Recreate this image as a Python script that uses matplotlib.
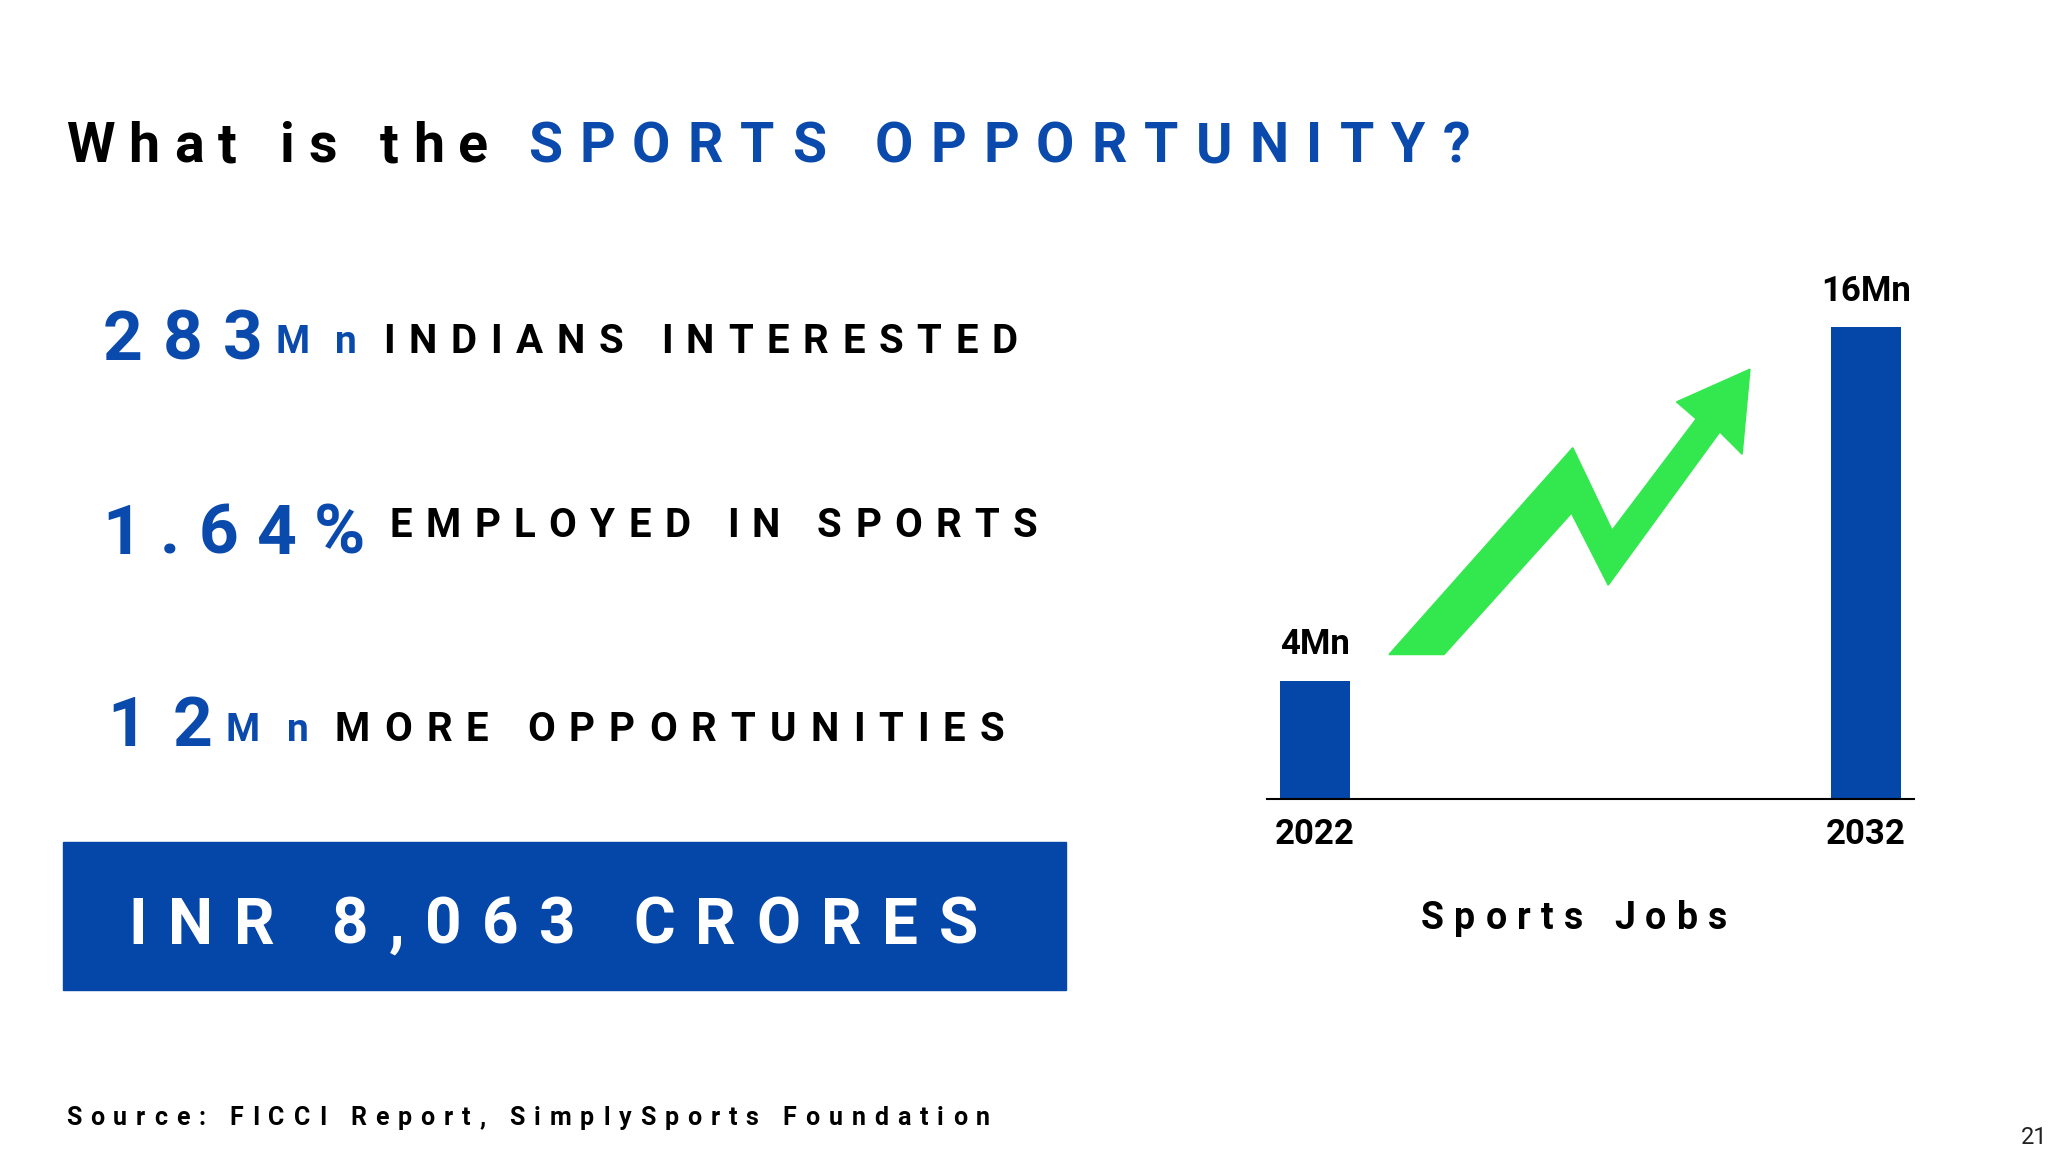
import matplotlib
matplotlib.use("Agg")
import matplotlib.pyplot as plt
from matplotlib.patches import Polygon, Rectangle

BLUE = "#0b4aad"
BAR_BLUE = "#0447a8"
GREEN = "#33e84f"

years = ["2022", "2032"]
jobs = [4, 16]
job_labels = ["4Mn", "16Mn"]

stats = [("283", "Mn", "INDIANS INTERESTED"),
         ("1.64%", "", "EMPLOYED IN SPORTS"),
         ("12", "Mn", "MORE OPPORTUNITIES")]

W, H = 1560.0, 880.0   # layout measured on a 1560x880 copy of the slide

plt.rcParams["font.family"] = ["Roboto", "DejaVu Sans"]
fig = plt.figure(figsize=(20.48, 11.52), dpi=100)
rend = fig.canvas.get_renderer()


def fx(x):
    return x / W


def fy(y):
    return 1 - y / H


def spaced(x0, x1, y, s, size, color, weight="bold"):
    # draw letters one by one, spreading them so the run ends at x1
    arts = []
    widths = []
    for ch in s:
        t = fig.text(0, fy(y), ch, fontsize=size, color=color, weight=weight,
                     ha="left", va="baseline")
        w = t.get_window_extent(rend).width if ch != " " else size * 0.35
        arts.append(t)
        widths.append(w)
    fw = fig.bbox.width
    total = (x1 - x0) / W * fw
    gap = (total - sum(widths)) / max(len(s) - 1, 1)
    pos = x0 / W * fw
    for t, w in zip(arts, widths):
        t.set_x(pos / fw)
        pos += w + gap


# title
spaced(50, 372, 124, "What is the", 40, "black")
spaced(402, 1120, 124, "SPORTS OPPORTUNITY?", 40, BLUE)

# left stats
rows = [(275, 78, 200, 210, 272, 292, 775, 270),
        (423, 78, 278, None, None, 297, 790, 410),
        (570, 82, 162, 172, 235, 255, 765, 566)]
for (big, unit, lbl), (yb, a0, a1, m0, m1, l0, l1, yl) in zip(stats, rows):
    spaced(a0, a1, yb, big, 50, BLUE)
    if unit:
        spaced(m0, m1, yl, unit, 28, BLUE)
    spaced(l0, l1, yl, lbl, 29, "black")

# INR box
fig.patches.append(Rectangle((fx(48), fy(756)), fx(812) - fx(48), fy(643) - fy(756),
                             transform=fig.transFigure, color=BAR_BLUE))
spaced(98, 745, 721, "INR 8,063 CRORES", 46, "white")

spaced(50, 754, 859, "Source: FICCI Report, SimplySports Foundation", 18, "black")
fig.text(fx(1560), fy(874), "21", fontsize=17, color="#222222", ha="right", va="baseline")

# bar chart
ax = fig.add_axes([fx(965), fy(610), fx(1458) - fx(965), fy(250) - fy(610)])
xs = range(len(years))
ax.bar(xs, jobs, width=53 / 420, color=BAR_BLUE)
ax.set_xlim(-36.5 / 420, 1 + 36.5 / 420)
ax.set_ylim(0, 16)
for s in ["top", "right", "left"]:
    ax.spines[s].set_visible(False)
ax.spines["bottom"].set_linewidth(1.5)
ax.set_yticks([])
ax.set_xticks(list(xs))
ax.set_xticklabels(years, fontsize=25, weight="bold")
ax.tick_params(axis="x", length=0, pad=14)
for x, v, lab in zip(xs, jobs, job_labels):
    ax.annotate(lab, (x, v), xytext=(0, 14), textcoords="offset points",
                ha="center", va="bottom", fontsize=25, weight="bold")
spaced(1082, 1316, 710, "Sports Jobs", 27, "black")

# green zigzag arrow
pts = [(1058, 500), (1198, 342), (1228, 405), (1292, 320), (1277, 307),
       (1333, 282), (1327, 347), (1310, 330), (1225, 447), (1197, 392), (1100, 500)]
fig.patches.append(Polygon([(fx(x), fy(y)) for x, y in pts], closed=True,
                           transform=fig.transFigure, color=GREEN))

fig.savefig("out.png", dpi=100, facecolor="white")
